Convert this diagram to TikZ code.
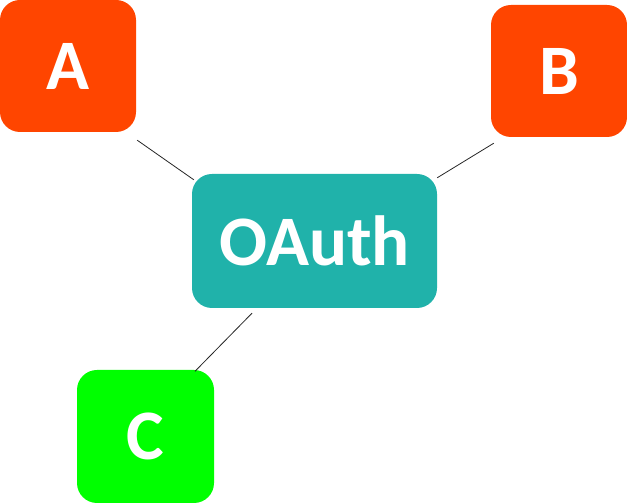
\documentclass[tikz,border=0pt]{standalone}
\usepackage{fontspec}
\setmainfont{Carlito}
\usetikzlibrary{calc}
\definecolor{boxorange}{HTML}{FF4500}
\definecolor{boxteal}{HTML}{20B2AA}
\definecolor{boxgreen}{HTML}{00FF00}
\begin{document}
\begin{tikzpicture}[x=1pt,y=1pt,
  box/.style={rounded corners=20pt, inner sep=0pt, text=white,
    font=\fontsize{71}{71}\selectfont\bfseries},
  link/.style={draw=black!85, line width=0.8pt}]
\useasboundingbox (0,0) rectangle (627,503);
\node[box, fill=boxorange, minimum width=136pt, minimum height=132pt] (A) at (68,437) {A};
\node[box, fill=boxorange, minimum width=136pt, minimum height=132pt] (B) at (559,432) {B};
\node[box, fill=boxteal, minimum width=245pt, minimum height=134pt] (O) at (314.5,262) {OAuth};
\node[box, fill=boxgreen, minimum width=137pt, minimum height=133pt] (C) at (145.5,66.5) {C};
\draw[link] ($(A.south east)+(1,-8)$) -- ($(O.north west)+(2,-6)$);
\draw[link] ($(B.south west)+(3,-6)$) -- ($(O.north east)+(0,-4)$);
\draw[link] ($(O.south)+(-62.5,-5)$) -- ($(C.north)+(49.5,-1.5)$);
\end{tikzpicture}
\end{document}
